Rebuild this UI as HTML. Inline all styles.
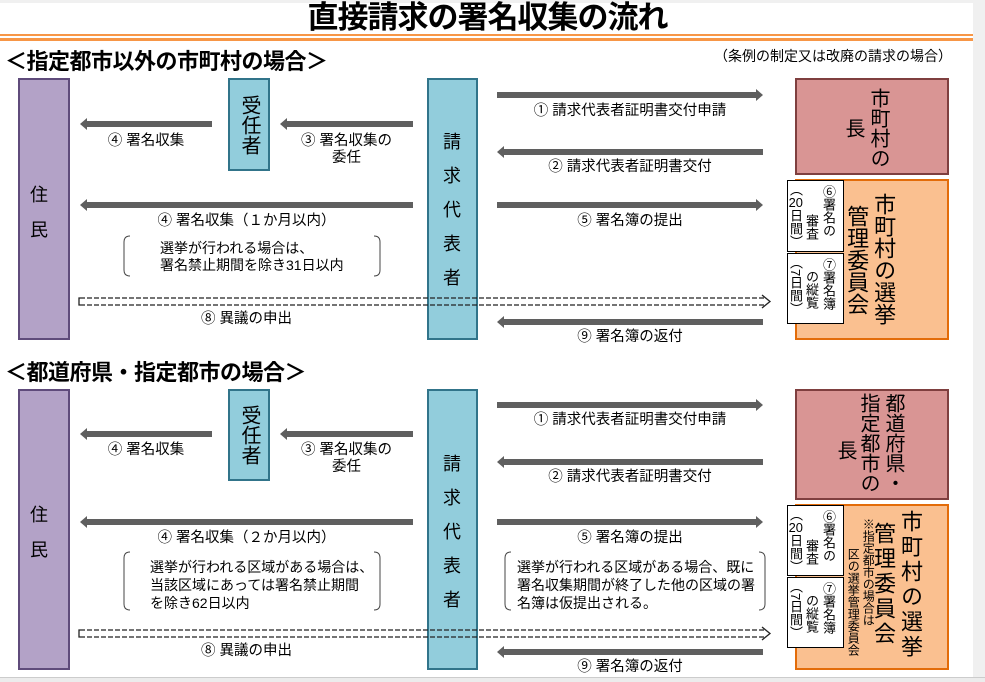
<!DOCTYPE html>
<html><head><meta charset="utf-8">
<style>
*{margin:0;padding:0;box-sizing:border-box}
body{width:985px;height:682px;background:#fff;position:relative;overflow:hidden;font-family:"Liberation Sans","Noto Sans CJK JP",sans-serif;color:#000}
.a{position:absolute;white-space:nowrap}
.box{position:absolute;border:2px solid}
.pur{background:#b3a2c7;border-color:#5f4b7b}
.blu{background:#92cddc;border-color:#31748a}
.pnk{background:#d99594;border-color:#7f3f3f}
.org{background:#fac090;border-color:#e36c09}
.wht{background:#fff;border:1.5px solid #000}
.v{position:absolute;writing-mode:vertical-rl;white-space:nowrap;line-height:1}
.tcu{text-combine-upright:all}
.lb{font-size:14.5px;text-align:center;line-height:17px}
.h{font-weight:bold;font-size:22px;letter-spacing:-0.5px}
</style></head><body>
<div style="position:absolute;right:0;top:0;width:12px;height:682px;background:#f0f0f0"></div>
<div style="position:absolute;left:0;top:0;width:985px;height:3px;background:#f0f0f0"></div>
<div class="a" style="left:0;width:975px;top:1px;text-align:center;font-size:31px;font-weight:bold;letter-spacing:-1px;line-height:34px">直接請求の署名収集の流れ</div>
<div style="position:absolute;left:0;top:34px;width:973px;height:2px;background:#f79646"></div>
<div style="position:absolute;left:0;top:38px;width:973px;height:3px;background:#f79646"></div>

<div class="a h" style="left:5px;top:44px">＜指定都市以外の市町村の場合＞</div>
<div class="a" style="left:714px;top:46px;font-size:14px">（条例の制定又は改廃の請求の場合）</div>
<div class="a h" style="left:5px;top:355px">＜都道府県・指定都市の場合＞</div>

<!-- top boxes -->
<div class="box pur" style="left:18px;top:78px;width:52px;height:262px"></div>
<div class="box blu" style="left:228px;top:78px;width:42px;height:93px"></div>
<div class="box blu" style="left:427px;top:78px;width:51px;height:262px"></div>
<div class="box pnk" style="left:795px;top:78px;width:154px;height:97px"></div>
<div class="box org" style="left:795px;top:179px;width:154px;height:161px"></div>
<div class="box wht" style="left:787px;top:180px;width:57px;height:72px"></div>
<div class="box wht" style="left:787px;top:253px;width:57px;height:71px"></div>

<!-- bottom boxes -->
<div class="box pur" style="left:18px;top:389px;width:52px;height:281px"></div>
<div class="box blu" style="left:228px;top:389px;width:42px;height:92px"></div>
<div class="box blu" style="left:427px;top:389px;width:51px;height:281px"></div>
<div class="box pnk" style="left:795px;top:389px;width:154px;height:111px"></div>
<div class="box org" style="left:795px;top:504px;width:154px;height:166px"></div>
<div class="box wht" style="left:787px;top:505px;width:57px;height:71px"></div>
<div class="box wht" style="left:787px;top:577px;width:57px;height:71px"></div>

<div style="position:absolute;left:0;top:677px;width:985px;height:5px;background:#ececec;border-top:1px solid #ccc"></div>

<svg width="985" height="682" style="position:absolute;left:0;top:0" fill="#5f5f5f">
<g>
<polygon points="497,92 756,92 756,89 763,95 756,101 756,98 497,98"/>
<polygon points="497,152 504,146 504,149 763,149 763,155 504,155 504,158"/>
<polygon points="80,124 87,118 87,121 212,121 212,127 87,127 87,130"/>
<polygon points="280,124 287,118 287,121 413,121 413,127 287,127 287,130"/>
<polygon points="80,205 87,199 87,202 413,202 413,208 87,208 87,211"/>
<polygon points="497,202 756,202 756,199 763,205 756,211 756,208 497,208"/>
<polygon points="497,322 504,316 504,319 763,319 763,325 504,325 504,328"/>
<polygon points="497,402 756,402 756,399 763,405 756,411 756,408 497,408"/>
<polygon points="497,462 504,456 504,459 763,459 763,465 504,465 504,468"/>
<polygon points="80,434 87,428 87,431 212,431 212,437 87,437 87,440"/>
<polygon points="280,434 287,428 287,431 413,431 413,437 287,437 287,440"/>
<polygon points="80,522 87,516 87,519 413,519 413,525 87,525 87,528"/>
<polygon points="497,519 756,519 756,516 763,522 756,528 756,525 497,525"/>
<polygon points="497,652 504,646 504,649 763,649 763,655 504,655 504,658"/>
</g>
<g fill="none" stroke="#222" stroke-width="1.3">
<line x1="80" y1="298" x2="764" y2="298" stroke-dasharray="5,2"/>
<line x1="80" y1="305" x2="764" y2="305" stroke-dasharray="5,2"/>
<path d="M80,298 L79,298 L79,305 L80,305"/>
<path d="M762,295 L770,301.5 L762,308"/>
<line x1="80" y1="630" x2="764" y2="630" stroke-dasharray="5,2"/>
<line x1="80" y1="637" x2="764" y2="637" stroke-dasharray="5,2"/>
<path d="M80,630 L79,630 L79,637 L80,637"/>
<path d="M762,627 L770,633.5 L762,640"/>
</g>
<g fill="none" stroke="#444" stroke-width="1">
<path d="M130,236 Q124,236 124,242 L124,270 Q124,276 130,276"/>
<path d="M374,236 Q380,236 380,242 L380,270 Q380,276 374,276"/>
<path d="M130,552 Q124,552 124,558 L124,604 Q124,610 130,610"/>
<path d="M374,552 Q380,552 380,558 L380,604 Q380,610 374,610"/>
<path d="M511,552 Q505,552 505,558 L505,604 Q505,610 511,610"/>
<path d="M759,552 Q765,552 765,558 L765,604 Q765,610 759,610"/>
</g>
</svg>

<!-- top labels -->
<div class="a lb" style="left:497px;width:266px;top:103px">① 請求代表者証明書交付申請</div>
<div class="a lb" style="left:497px;width:266px;top:159px">② 請求代表者証明書交付</div>
<div class="a lb" style="left:80px;width:132px;top:133px">④ 署名収集</div>
<div class="a lb" style="left:280px;width:133px;top:133px">③ 署名収集の<br>委任</div>
<div class="a lb" style="left:80px;width:333px;top:213px">④ 署名収集（１か月以内）</div>
<div class="a" style="left:160px;top:240px;font-size:14px;line-height:17px">選挙が行われる場合は、<br>署名禁止期間を除き31日以内</div>
<div class="a lb" style="left:497px;width:266px;top:213px">⑤ 署名簿の提出</div>
<div class="a lb" style="left:80px;width:333px;top:311px">⑧ 異議の申出</div>
<div class="a lb" style="left:497px;width:266px;top:329px">⑨ 署名簿の返付</div>

<!-- bottom labels -->
<div class="a lb" style="left:497px;width:266px;top:412px">① 請求代表者証明書交付申請</div>
<div class="a lb" style="left:497px;width:266px;top:469px">② 請求代表者証明書交付</div>
<div class="a lb" style="left:80px;width:132px;top:442px">④ 署名収集</div>
<div class="a lb" style="left:280px;width:133px;top:442px">③ 署名収集の<br>委任</div>
<div class="a lb" style="left:80px;width:333px;top:530px">④ 署名収集（２か月以内）</div>
<div class="a" style="left:150px;top:558px;font-size:14px;line-height:18px">選挙が行われる区域がある場合は、<br>当該区域にあっては署名禁止期間<br>を除き62日以内</div>
<div class="a lb" style="left:497px;width:266px;top:530px">⑤ 署名簿の提出</div>
<div class="a" style="left:517px;top:558px;font-size:14px;line-height:18px">選挙が行われる区域がある場合、既に<br>署名収集期間が終了した他の区域の署<br>名簿は仮提出される。</div>
<div class="a lb" style="left:80px;width:333px;top:643px">⑧ 異議の申出</div>
<div class="a lb" style="left:497px;width:266px;top:659px">⑨ 署名簿の返付</div>

<!-- vertical texts top -->
<div class="v" style="left:29px;top:185px;font-size:18px;letter-spacing:17px">住民</div>
<div class="v" style="left:239px;top:95px;font-size:20px">受任者</div>
<div class="v" style="left:442px;top:132px;font-size:18px;letter-spacing:16px">請求代表者</div>
<div class="v" style="left:868px;top:88px;font-size:20px">市町村の</div>
<div class="v" style="left:843px;top:118px;font-size:20px">長</div>
<div class="v" style="left:872px;top:193px;font-size:22px;line-height:1.05">市町村の選挙</div>
<div class="v" style="left:845px;top:205px;font-size:22px;line-height:1.05">管理委員会</div>
<div class="v" style="left:822px;top:185px;font-size:13px">⑥署名の</div>
<div class="v" style="left:805px;top:214px;font-size:13px">審査</div>
<div class="v" style="left:789px;top:183px;font-size:13px">（<span class="tcu">20</span>日間）</div>
<div class="v" style="left:822px;top:258px;font-size:13px">⑦署名簿</div>
<div class="v" style="left:805px;top:270px;font-size:13px">の縦覧</div>
<div class="v" style="left:789px;top:256px;font-size:13px">（7日間）</div>

<!-- vertical texts bottom -->
<div class="v" style="left:29px;top:505px;font-size:18px;letter-spacing:17px">住民</div>
<div class="v" style="left:239px;top:405px;font-size:20px">受任者</div>
<div class="v" style="left:442px;top:454px;font-size:18px;letter-spacing:16px">請求代表者</div>
<div class="v" style="left:883px;top:393px;font-size:20px">都道府県・</div>
<div class="v" style="left:858px;top:393px;font-size:20px">指定都市の</div>
<div class="v" style="left:835px;top:440px;font-size:20px">長</div>
<div class="v" style="left:899px;top:510px;font-size:22px;letter-spacing:3px">市町村の選挙</div>
<div class="v" style="left:872px;top:522px;font-size:22px;letter-spacing:3px">管理委員会</div>
<div class="v" style="left:861px;top:518px;font-size:12px;line-height:1.1">※指定都市の場合は</div>
<div class="v" style="left:846px;top:548px;font-size:12px;line-height:1.1">区の選挙管理委員会</div>
<div class="v" style="left:822px;top:510px;font-size:13px">⑥署名の</div>
<div class="v" style="left:805px;top:539px;font-size:13px">審査</div>
<div class="v" style="left:789px;top:508px;font-size:13px">（<span class="tcu">20</span>日間）</div>
<div class="v" style="left:822px;top:582px;font-size:13px">⑦署名簿</div>
<div class="v" style="left:805px;top:594px;font-size:13px">の縦覧</div>
<div class="v" style="left:789px;top:580px;font-size:13px">（7日間）</div>
</body></html>
